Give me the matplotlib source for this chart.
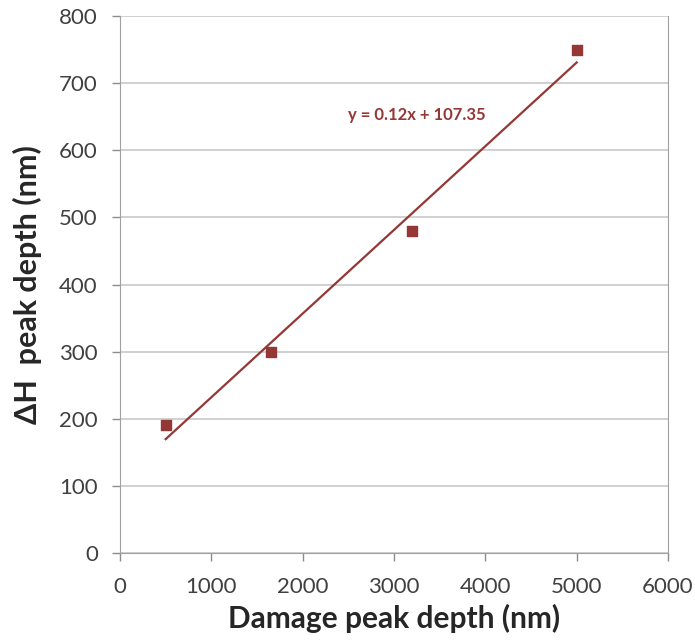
import numpy as np
import matplotlib
matplotlib.use("Agg")
import matplotlib.pyplot as plt

# data
damage_depth = [500, 1650, 3200, 5000]
dh_depth = [190, 300, 480, 750]
x_ticks = [0, 1000, 2000, 3000, 4000, 5000, 6000]
y_ticks = [0, 100, 200, 300, 400, 500, 600, 700, 800]

red = "#953735"
grey = "#8c8c8c"

plt.rcParams["font.family"] = ["Lato", "DejaVu Sans"]

fig = plt.figure(figsize=(6.95, 6.42), dpi=100)
ax = fig.add_axes([0.1727, 0.1386, 0.7885, 0.8364])

ax.grid(axis="y", color="#c8c8c8", lw=1.2)
ax.set_axisbelow(True)

# linear trendline
slope, icpt = np.polyfit(damage_depth, dh_depth, 1)
xs = np.array([min(damage_depth), max(damage_depth)])
ax.plot(xs, slope * xs + icpt, color=red, lw=1.6)
ax.scatter(damage_depth, dh_depth, marker="s", s=55, color=red, zorder=3)

ax.text(2500, 653, f"y = {slope:.2f}x + {icpt:.2f}", color=red,
        fontsize=12, fontweight="bold", va="center", ha="left")

ax.set_xlim(0, 6000)
ax.set_ylim(0, 800)
ax.set_xticks(x_ticks)
ax.set_yticks(y_ticks)
ax.tick_params(axis="both", labelsize=16, colors=grey, labelcolor="#404040",
               length=6, width=1)
ax.tick_params(axis="x", pad=11)
ax.tick_params(axis="y", pad=10)
for side in ["left", "bottom", "right", "top"]:
    ax.spines[side].set_color("#a0a0a0")
ax.spines["top"].set_visible(False)

ax.set_xlabel("Damage peak depth (nm)", fontsize=21.5, fontweight="bold",
              color="#262626", labelpad=5)
ax.set_ylabel("ΔH  peak depth (nm)", fontsize=22, fontweight="bold",
              color="#262626", labelpad=12)

fig.savefig("out.png", dpi=100)
